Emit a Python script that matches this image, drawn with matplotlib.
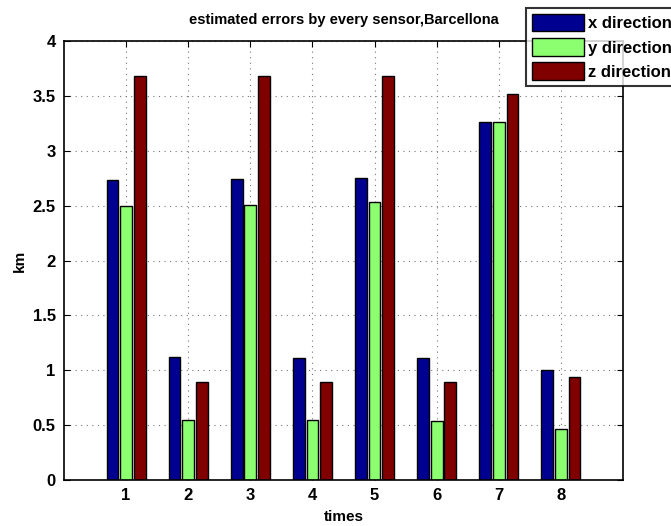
import numpy as np
import matplotlib.pyplot as plt

plt.rcParams['font.family'] = ['Liberation Sans', 'DejaVu Sans']

# values (km)
times = [1, 2, 3, 4, 5, 6, 7, 8]
x_dir = [2.73, 1.12, 2.74, 1.11, 2.75, 1.11, 3.26, 1.00]
y_dir = [2.50, 0.55, 2.51, 0.55, 2.53, 0.54, 3.26, 0.46]
z_dir = [3.68, 0.89, 3.68, 0.89, 3.68, 0.89, 3.52, 0.94]
labels = ['x direction', 'y direction', 'z direction']
colors = ['#000090', '#8CFF70', '#800000']

fig = plt.figure(figsize=(6.71, 5.26), dpi=100)
ax = fig.add_axes([0.0954, 0.0875, 0.833, 0.8345])

pos = np.array(times)
w = 0.19
for off, vals, lab, c in zip([-0.22, 0, 0.22], [x_dir, y_dir, z_dir], labels, colors):
    ax.bar(pos + off, vals, width=w, color=c, edgecolor='black', linewidth=1, label=lab, zorder=2)

ax.set_xlim(0, 9)
ax.set_ylim(0, 4)
ax.set_xticks(times)
ax.set_yticks(np.arange(0, 4.01, 0.5))
ax.set_yticklabels(['0', '0.5', '1', '1.5', '2', '2.5', '3', '3.5', '4'])
ax.grid(True, linestyle=(0, (1, 4)), color='#777777', linewidth=0.8, zorder=0)
ax.set_axisbelow(True)
ax.tick_params(direction='in', top=True, right=True, length=4, labelsize=12, pad=6)
for t in ax.get_xticklabels() + ax.get_yticklabels():
    t.set_fontweight('bold')
for s in ax.spines.values():
    s.set_linewidth(1.2)

ax.set_xlabel('times', fontsize=11, fontweight='bold', labelpad=5)
ax.set_ylabel('km', fontsize=11, fontweight='bold', labelpad=4)
ax.set_title('estimated errors by every sensor,Barcellona', fontsize=10.5, fontweight='bold', pad=12)

leg = fig.legend(loc='upper left', bbox_to_anchor=(526 / 671, 1 - 8 / 526),
                 prop={'weight': 'bold', 'size': 12}, frameon=True, fancybox=False,
                 handlelength=3.1, handleheight=1.25, handletextpad=0.3, labelspacing=0.4,
                 borderpad=0.35, borderaxespad=0)
leg.get_frame().set_edgecolor('black')
leg.get_frame().set_linewidth(1.5)

fig.savefig('out.png', dpi=100)
